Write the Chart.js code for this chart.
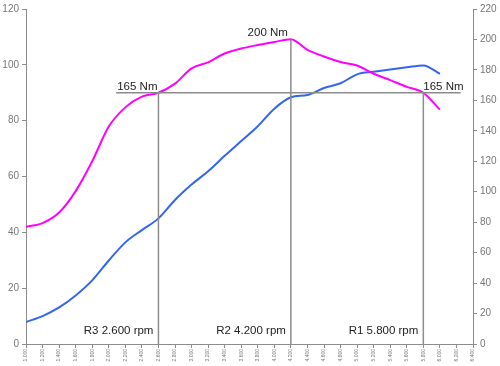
<!DOCTYPE html>
<html>
<head>
<meta charset="utf-8">
<script src="https://cdn.jsdelivr.net/npm/chart.js@4.4.1/dist/chart.umd.min.js"></script>
<style>
  html, body { margin: 0; padding: 0; background: #fff; }
  .wrap { width: 500px; height: 366px; }
</style>
</head>
<body>
<div class="wrap"><canvas id="dyno"></canvas></div>
<script>
"use strict";

//////////////////////////////
// Data
const rpm = [1000, 1200, 1400, 1600, 1800, 2000, 2200, 2400, 2600, 2800, 3000, 3200, 3400,
  3600, 3800, 4000, 4200, 4400, 4600, 4800, 5000, 5200, 5400, 5600, 5800, 6000];
// power, left axis
const power = [7.9, 10, 13.1, 17.4, 22.8, 29.9, 36.4, 40.8, 45, 51.6, 57.1, 61.9, 67.4,
  72.7, 78, 84.3, 88.4, 89.2, 91.7, 93.4, 96.6, 97.5, 98.3, 99.1, 99.8, 96.8];
// torque (Nm), right axis
const torque = [77, 79.4, 86.3, 100.4, 120, 142.8, 155.4, 162.4, 165, 171, 181, 185, 190.8,
  194, 196.3, 198.3, 200.2, 193.2, 188.8, 185.2, 182.9, 177.5, 173.3, 168.9, 165, 153.9];

const leftTicks = [0, 20, 40, 60, 80, 100, 120];
const rightTicks = [0, 20, 40, 60, 80, 100, 120, 140, 160, 180, 200, 220];

// reference marks
const refRpm = [2600, 4200, 5800];
const refNm = [165, 200, 165];
const refLabels = ["R3 2.600 rpm", "R2 4.200 rpm", "R1 5.800 rpm"];
const nmLabels = ["165 Nm", "200 Nm", "165 Nm"];
const hLineFrom = 2090;
const hLineTo = 6250;

const grey = "#8c8c8c";

const pts = (ys) => rpm.map((x, i) => ({ x: x, y: ys[i] }));

const refSets = refRpm.map((r, i) => ({
  data: [{ x: r, y: 0 }, { x: r, y: refNm[i] }],
  yAxisID: "y1",
  borderColor: grey,
  borderWidth: 1.5,
  pointRadius: 0,
  tension: 0,
}));

// text labels placed with the scales
const labelPlugin = {
  id: "labels",
  afterDatasetsDraw(chart) {
    const ctx = chart.ctx;
    const x = chart.scales.x;
    const y1 = chart.scales.y1;
    ctx.save();
    ctx.font = "11.5px Arial, 'Liberation Sans'";
    ctx.fillStyle = "#222";
    ctx.textBaseline = "alphabetic";

    refLabels.forEach((t, i) => {
      ctx.textAlign = "right";
      ctx.fillText(t, x.getPixelForValue(refRpm[i]) - 5, y1.getPixelForValue(0) - 10);
    });

    ctx.textAlign = "left";
    ctx.fillText(nmLabels[0], x.getPixelForValue(hLineFrom) + 1, y1.getPixelForValue(refNm[0]) - 3);
    ctx.textAlign = "right";
    ctx.fillText(nmLabels[1], x.getPixelForValue(refRpm[1]) - 3, y1.getPixelForValue(refNm[1]) - 3);
    ctx.textAlign = "left";
    ctx.fillText(nmLabels[2], x.getPixelForValue(refRpm[2]) + 0, y1.getPixelForValue(refNm[2]) - 3);
    ctx.restore();
  },
};

const canvas = document.getElementById("dyno");
new Chart(canvas.getContext("2d"), {
  type: "line",
  data: {
    datasets: [
      {
        data: [{ x: hLineFrom, y: 165 }, { x: hLineTo, y: 165 }],
        yAxisID: "y1",
        borderColor: grey,
        borderWidth: 1.5,
        pointRadius: 0,
      },
      ...refSets,
      {
        label: "Torque",
        data: pts(torque),
        yAxisID: "y1",
        borderColor: "#ff00ff",
        borderWidth: 2,
        pointRadius: 0,
        cubicInterpolationMode: "monotone",
      },
      {
        label: "Power",
        data: pts(power),
        yAxisID: "y",
        borderColor: "#3366ee",
        borderWidth: 2,
        pointRadius: 0,
        cubicInterpolationMode: "monotone",
      },
    ],
  },
  options: {
    responsive: true,
    maintainAspectRatio: false,
    animation: false,
    layout: { padding: { top: 0, left: 0, right: 0, bottom: 0 } },
    plugins: { legend: { display: false }, tooltip: { enabled: false } },
    scales: {
      x: {
        type: "linear",
        min: 1000,
        max: 6400,
        border: { color: grey, width: 1 },
        grid: { drawOnChartArea: false, color: grey, tickLength: 4 },
        ticks: {
          stepSize: 200,
          autoSkip: false,
          minRotation: 90,
          maxRotation: 90,
          padding: 1,
          color: "#777",
          font: { size: 5, family: "Arial" },
          callback: (v) => (v / 1000).toFixed(3),
        },
        afterFit: (s) => { s.height = 22; },
      },
      y: {
        position: "left",
        min: 0,
        max: 120,
        border: { color: grey, width: 1 },
        grid: { drawOnChartArea: false, color: grey, tickLength: 4 },
        afterBuildTicks: (s) => { s.ticks = leftTicks.map((v) => ({ value: v })); },
        ticks: { color: "#777", padding: 3, font: { size: 10, family: "Arial" } },
        afterFit: (s) => { s.width = 26; },
      },
      y1: {
        position: "right",
        min: 0,
        max: 220,
        border: { color: grey, width: 1 },
        grid: { drawOnChartArea: false, color: grey, tickLength: 4 },
        afterBuildTicks: (s) => { s.ticks = rightTicks.map((v) => ({ value: v })); },
        ticks: { color: "#777", padding: 3, font: { size: 10, family: "Arial" } },
        afterFit: (s) => { s.width = 27; },
      },
    },
  },
  plugins: [labelPlugin],
});
</script>
</body>
</html>
